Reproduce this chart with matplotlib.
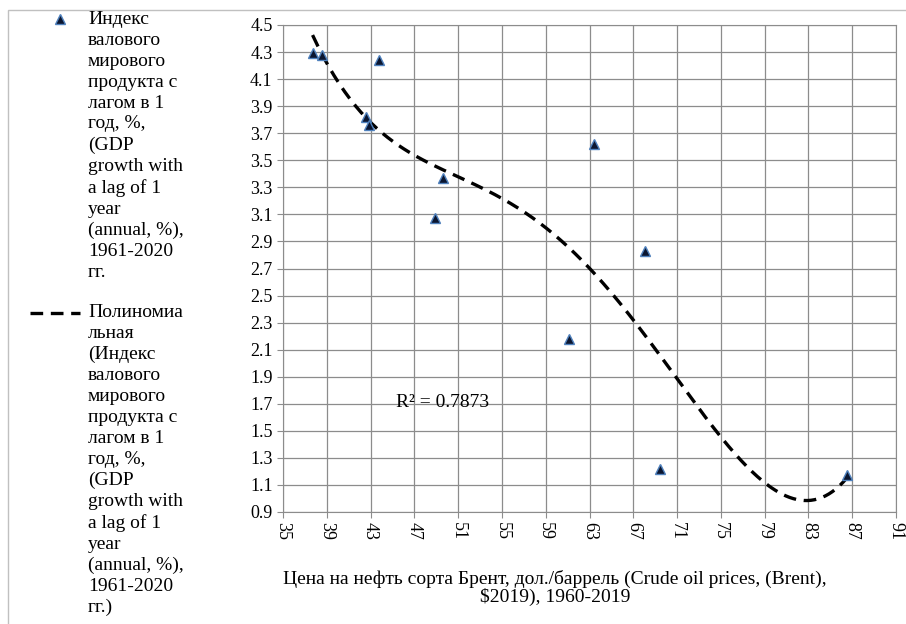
import matplotlib.pyplot as plt
import numpy as np
from matplotlib.lines import Line2D
from matplotlib.patches import Rectangle

plt.rcParams['font.family'] = ['Liberation Serif', 'DejaVu Serif']

# data
oil_price = [37.7, 38.6, 42.6, 42.9, 43.8, 48.9, 49.6, 61.1, 63.4, 68.1, 69.4, 86.5]
gdp_growth = [4.29, 4.28, 3.82, 3.76, 4.24, 3.07, 3.37, 2.18, 3.62, 2.83, 1.22, 1.17]

x_ticks = np.arange(35, 92, 4)
y_ticks = np.arange(0.9, 4.51, 0.2)

scatter_label = ("Индекс\nвалового\nмирового\nпродукта с\nлагом в 1\nгод, %,\n(GDP\n"
                 "growth with\na lag of 1\nyear\n(annual, %),\n1961-2020\nгг.")
trend_label = ("Полиномиа\nльная\n(Индекс\nвалового\nмирового\nпродукта с\nлагом в 1\n"
               "год, %,\n(GDP\ngrowth with\na lag of 1\nyear\n(annual, %),\n1961-2020\nгг.)")
x_label = ("Цена на нефть сорта Брент, дол./баррель (Crude oil prices, (Brent),\n"
           "$2019), 1960-2019")
r2_text = "R² = 0.7873"

W, H = 906, 624
fig = plt.figure(figsize=(W / 100, H / 100), dpi=100)
ax = fig.add_axes([283 / W, 1 - 512 / H, 613 / W, 487 / H])

# 4th degree polynomial trend (Excel style), over the data range
coef = np.polyfit(oil_price, gdp_growth, 4)
xs = np.linspace(min(oil_price), max(oil_price), 300)
ax.plot(xs, np.polyval(coef, xs), color='black', lw=2.4,
        linestyle=(0, (3.8, 2.3)), zorder=2)

ax.plot(oil_price, gdp_growth, linestyle='none', marker='^', ms=7,
        mfc='#0b1630', mec='#4f81bd', mew=1, zorder=3)

ax.text(0.185, 0.225, r2_text, transform=ax.transAxes, fontsize=14,
        va='center', ha='left')

ax.set_xlim(35, 91)
ax.set_ylim(0.9, 4.5)
ax.set_xticks(x_ticks)
ax.set_yticks(y_ticks)
ax.set_xticklabels([str(v) for v in x_ticks], rotation=-90)
ax.set_yticklabels([f"{v:.1f}" for v in y_ticks])
ax.grid(True, color='#8c8c8c', lw=0.9)
ax.set_axisbelow(True)
ax.tick_params(colors='#8c8c8c', labelcolor='black', labelsize=13, length=4)
for s in ax.spines.values():
    s.set_color('#8c8c8c')
ax.set_xlabel(x_label, fontsize=14, linespacing=1.05)
ax.xaxis.set_label_coords(0.444, -0.118)

# legend on the left, drawn by hand so the keys sit by the first line
fig.add_artist(Line2D([60 / W], [1 - 19 / H], transform=fig.transFigure,
                      marker='^', ms=7, mfc='#0b1630', mec='#4f81bd', mew=1))
fig.add_artist(Line2D([30 / W, 80 / W], [1 - 313 / H, 1 - 313 / H],
                      transform=fig.transFigure, color='black', lw=2.4,
                      linestyle=(0, (3.8, 2.3))))
fig.text(88 / W, 1 - 11 / H, scatter_label, va='top', fontsize=14, linespacing=1.3)
fig.text(88 / W, 1 - 304 / H, trend_label, va='top', fontsize=14, linespacing=1.3)

# outer frame
fig.add_artist(Rectangle((8 / W, -0.05), 1.0, 1 - 10 / H + 0.05,
                         transform=fig.transFigure, fill=False,
                         edgecolor='#c0c0c0', lw=1))

fig.savefig('out.png', dpi=100)
